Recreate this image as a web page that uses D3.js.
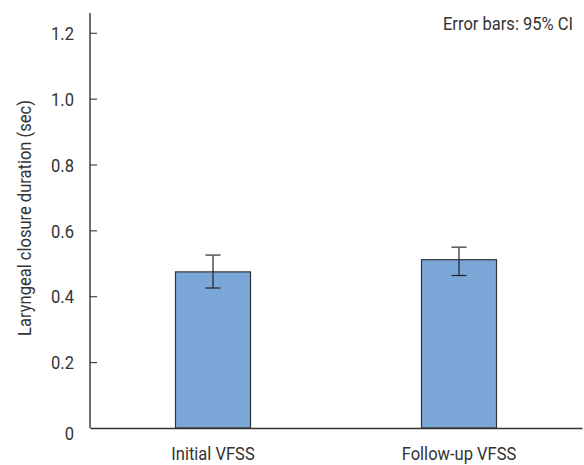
<!DOCTYPE html>
<html>
<head>
<meta charset="utf-8">
<script src="https://cdn.jsdelivr.net/npm/d3@7"></script>
<style>
	body { margin: 0; background: #fff; }
	text { font-family: Roboto, sans-serif; fill: #333; }
</style>
</head>
<body>
<script>

let width = 584;
let height = 465;

let margins = {
	top: 13,
	right: 2,
	bottom: 37,
	left: 90
};

// data
let categories = ["Initial VFSS", "Follow-up VFSS"];
let means = [0.474, 0.511];
let ciLow = [0.425, 0.463];
let ciHigh = [0.525, 0.549];
let yTicks = [0, 0.2, 0.4, 0.6, 0.8, 1.0, 1.2];

let fontSize = "19px";
let squeeze = 0.87; // the original font is a condensed one

// narrow the glyphs of a text selection around its anchor point
function condense(sel) {
	sel.each(function() {
		let t = d3.select(this);
		let ax = +t.attr("x") || 0;
		let ay = +t.attr("y") || 0;
		let before = t.attr("transform") || "";
		t.attr("transform", before + " translate(" + ax + "," + ay + ") scale(" + squeeze + ",1) translate(" + (-ax) + "," + (-ay) + ")");
	});
}

let xScale = d3.scaleBand()
	.domain(categories)
	.range([margins.left, width - margins.right])
	.paddingInner(0.695)
	.paddingOuter(0.3475);

let yScale = d3.scaleLinear()
	.domain([0, 1.26])
	.range([height - margins.bottom, margins.top]);

let svg = d3.select("body")
	.append("svg")
		.attr("width", width)
		.attr("height", height);

// bars
svg.selectAll("rect.bar")
	.data(categories)
	.enter()
	.append("rect")
		.attr("class", "bar")
		.attr("x", d => xScale(d))
		.attr("y", (d, i) => yScale(means[i]))
		.attr("width", xScale.bandwidth())
		.attr("height", (d, i) => yScale(0) - yScale(means[i]))
		.style("fill", "#7ba6d8")
		.style("stroke", "#333")
		.style("stroke-width", "1.2px");

// error bars
let capHalf = 7.5;
let err = svg.selectAll("g.err")
	.data(categories)
	.enter()
	.append("g")
		.attr("class", "err")
		.attr("transform", d => "translate(" + (xScale(d) + xScale.bandwidth() / 2) + ",0)");

err.append("line")
	.attr("y1", (d, i) => yScale(ciLow[i]))
	.attr("y2", (d, i) => yScale(ciHigh[i]))
	.style("stroke", "#222")
	.style("stroke-width", "1.2px");

err.append("line")
	.attr("x1", -capHalf).attr("x2", capHalf)
	.attr("y1", (d, i) => yScale(ciHigh[i]))
	.attr("y2", (d, i) => yScale(ciHigh[i]))
	.style("stroke", "#555")
	.style("stroke-width", "1.5px");

err.append("line")
	.attr("x1", -capHalf).attr("x2", capHalf)
	.attr("y1", (d, i) => yScale(ciLow[i]))
	.attr("y2", (d, i) => yScale(ciLow[i]))
	.style("stroke", "#222")
	.style("stroke-width", "1.2px");

// y axis, ticks point inward
let yAxis = d3.axisLeft(yScale)
	.tickValues(yTicks)
	.tickSize(-7)
	.tickPadding(16)
	.tickFormat(d => d === 0 ? "0" : d3.format(".1f")(d));

let gy = svg.append("g")
	.attr("class", "y axis")
	.attr("transform", "translate(" + margins.left + ",0)")
	.call(yAxis);
gy.select(".domain").attr("d", "M0," + margins.top + "V" + yScale(0)).style("stroke", "#222").style("stroke-width", "1.3px");
gy.selectAll(".tick line").style("stroke", "#222").style("display", d => d === 0 ? "none" : null);
gy.selectAll(".tick text")
	.attr("x", -16)
	.attr("dy", d => d === 0 ? "0.6em" : "0.35em")
	.style("font-size", fontSize)
	.style("fill", "#333")
	.style("font-family", "Roboto, sans-serif")
	.call(condense);

// x axis
let xAxis = d3.axisBottom(xScale)
	.tickSize(0)
	.tickPadding(19);

let gx = svg.append("g")
	.attr("class", "x axis")
	.attr("transform", "translate(0," + yScale(0) + ")")
	.call(xAxis);
gx.select(".domain").style("stroke", "#333").style("stroke-width", "1.3px");
gx.selectAll(".tick text")
	.style("font-size", fontSize)
	.style("fill", "#333")
	.style("font-family", "Roboto, sans-serif")
	.call(condense);

// axis title
svg.append("text")
	.attr("transform", "translate(31,218) rotate(-90)")
	.attr("text-anchor", "middle")
	.style("font-size", fontSize)
	.text("Laryngeal closure duration (sec)")
	.call(condense);

// note
svg.append("text")
	.attr("x", 573)
	.attr("y", 30)
	.attr("text-anchor", "end")
	.style("font-size", fontSize)
	.text("Error bars: 95% CI")
	.call(condense);

</script>
</body>
</html>
